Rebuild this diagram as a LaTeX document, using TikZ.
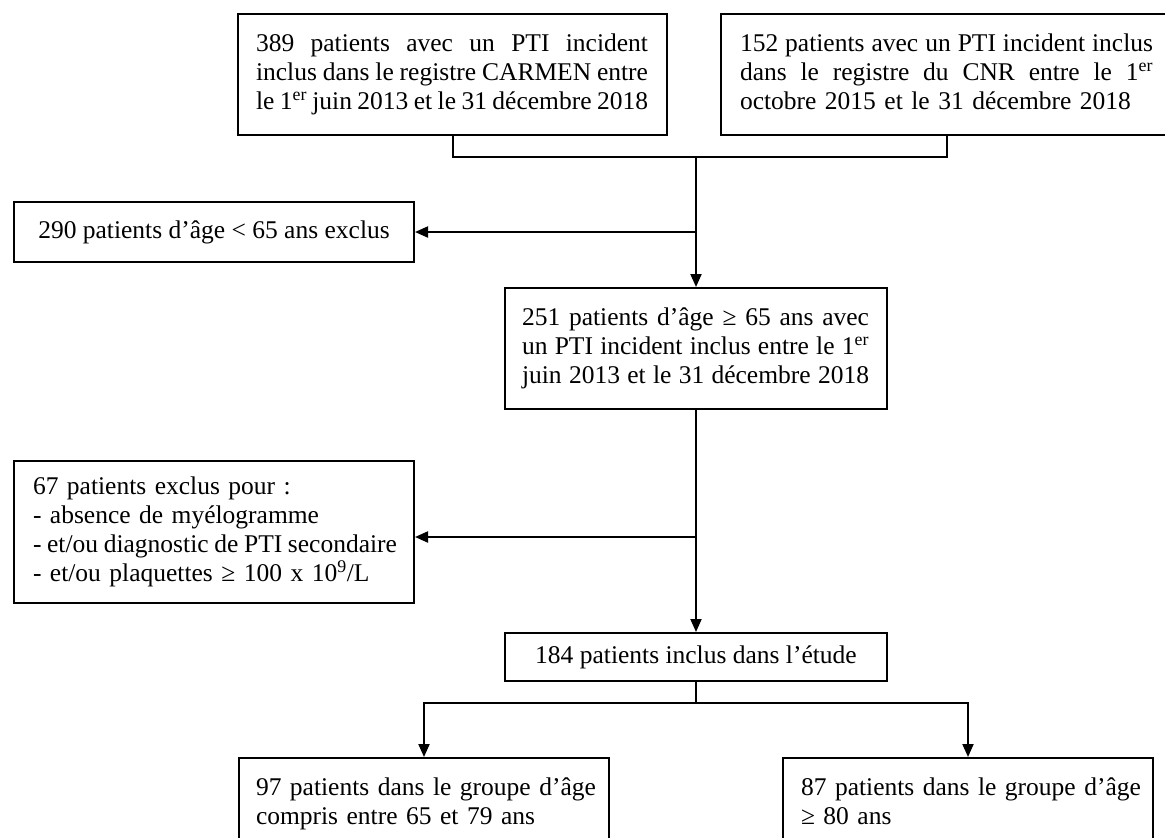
\documentclass[tikz,border=0pt]{standalone}
\usepackage{fontspec}
\setmainfont{Liberation Serif}
\usetikzlibrary{arrows.meta}
\tikzset{
  box/.style={draw, line width=2pt, rectangle, anchor=north west, inner ysep=0pt,
    font=\fontsize{25.5}{29}\selectfont},
  arr/.style={line width=2pt, -{Triangle[length=13pt,width=11pt]}},
  conn/.style={line width=2pt},
}
\newcommand{\jl}[2]{\makebox[#1][s]{\spaceskip=0.1em plus 1fill\relax #2}}
\begin{document}
\begin{tikzpicture}[x=1pt,y=-1pt]
\useasboundingbox (0,0) rectangle (1165,838);
% top boxes
\node[box, text width=393pt, inner xsep=18pt, minimum height=121pt, align=left] (A) at (237,13)
  {\strut\jl{392pt}{389 patients avec un PTI incident}\\
   \jl{392pt}{inclus dans le registre CARMEN entre}\\
   \jl{392pt}{le 1\textsuperscript{er} juin 2013 et le 31 décembre 2018}\strut};
\node[box, text width=413pt, inner xsep=19pt, minimum height=121pt, align=left] (B) at (720,13)
  {\strut\jl{413pt}{152 patients avec un PTI incident inclus}\\
   \jl{413pt}{dans le registre du CNR entre le 1\textsuperscript{er}}\\
   \mbox{octobre 2015 et le 31 décembre 2018}\strut};
% exclusion 1
\node[box, minimum width=400pt, minimum height=60pt, inner xsep=0pt, align=center] (X1) at (13,201)
  {290 patients d’âge < 65 ans exclus};
% box C
\node[box, text width=348pt, inner xsep=17pt, minimum height=121pt, align=left] (C) at (504,287)
  {\strut\jl{347pt}{251 patients d’âge ≥ 65 ans avec}\\
   \jl{347pt}{un PTI incident inclus entre le 1\textsuperscript{er}}\\
   \jl{347pt}{juin 2013 et le 31 décembre 2018}\strut};
% exclusion 2
\node[box, text width=362pt, inner xsep=19pt, minimum height=142pt, align=left] (X2) at (13,460)
  {\strut\mbox{67 patients exclus pour :}\\
   \mbox{- absence de myélogramme}\\
   \jl{364pt}{- et/ou diagnostic de PTI secondaire}\\
   \mbox{- et/ou plaquettes ≥ 100 x 10\textsuperscript{9}/L}\strut};
% box D
\node[box, minimum width=382pt, minimum height=48pt, inner xsep=0pt, align=center] (D) at (504,632)
  {184 patients inclus dans l’étude};
% bottom boxes
\node[box, text width=336pt, inner xsep=17pt, minimum height=92pt, align=left] (E) at (238,757)
  {\strut\mbox{97 patients dans le groupe d’âge}\\ \mbox{compris entre 65 et 79 ans}\strut};
\node[box, text width=334pt, inner xsep=18pt, minimum height=92pt, align=left] (F) at (782,757)
  {\strut\mbox{87 patients dans le groupe d’âge}\\ \mbox{≥ 80 ans}\strut};
% connectors
\coordinate (j1) at (C.north |- 0,157);
\coordinate (t1) at (C.north |- 0,232);
\coordinate (t2) at (C.south |- 0,537);
\coordinate (br) at (D.south |- 0,703);
\draw[conn] (A.south) |- (j1) -| (B.south);
\draw[arr] (j1) -- (C.north);
\draw[arr] (t1) -- (t1 -| X1.east);
\draw[arr] (C.south) -- (D.north);
\draw[arr] (t2) -- (t2 -| X2.east);
\draw[conn] (D.south) -- (br);
\draw[arr] (br) -| (E.north);
\draw[arr] (br) -| (F.north);
\end{tikzpicture}
\end{document}
